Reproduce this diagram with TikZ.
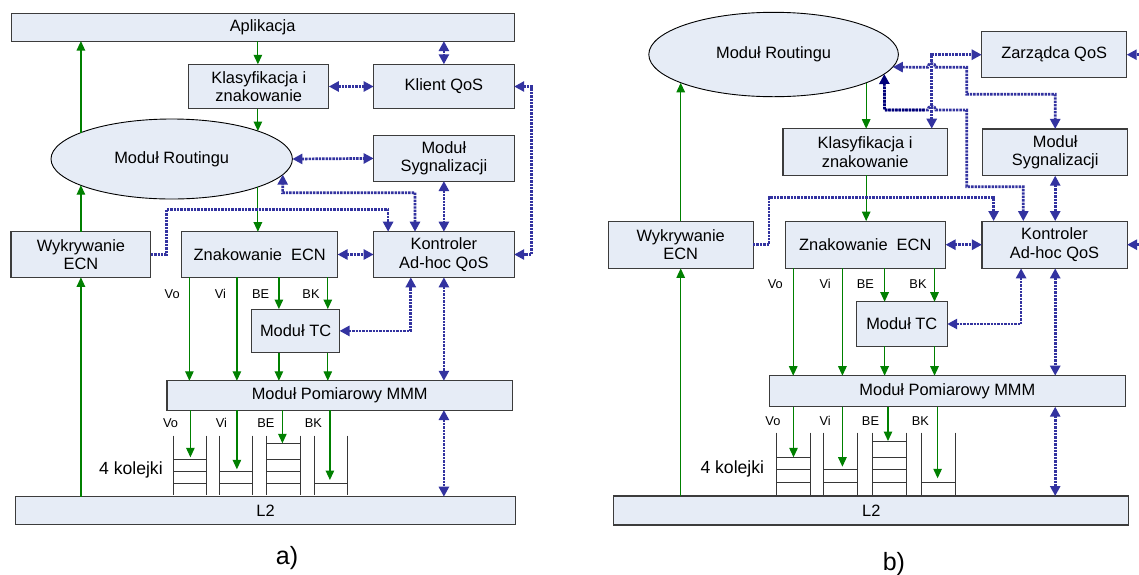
\documentclass[tikz,border=0pt]{standalone}
\usepackage{fontspec}
\setmainfont{Liberation Sans}
\usetikzlibrary{arrows.meta,shapes.geometric}

\definecolor{boxfill}{RGB}{230,236,246}
\definecolor{boxline}{RGB}{60,60,60}
\definecolor{flow}{RGB}{0,128,0}
\definecolor{ctrl}{RGB}{51,51,160}
\definecolor{ctrldark}{RGB}{0,0,120}
\definecolor{queue}{RGB}{55,55,55}

\tikzset{
  every node/.style={font=\fontsize{16.4}{18.6}\selectfont, align=center, inner sep=0pt, outer sep=0pt},
  blk/.style={draw=boxline, line width=1.1pt, fill=boxfill},
  oval/.style={ellipse, draw=black, line width=0.9pt, fill=boxfill},
  data/.style={draw=flow, line width=1.2pt, -{Triangle[length=9.5pt,width=8.5pt]}},
  ctl/.style={draw=ctrl, line width=2.7pt, dash pattern=on 2.4pt off 1pt,
    {Triangle[length=10pt,width=10pt]}-{Triangle[length=10pt,width=10pt]}},
  ctlone/.style={draw=ctrl, line width=2.7pt, dash pattern=on 2.4pt off 1pt,
    -{Triangle[length=10pt,width=10pt]}},
  qline/.style={draw=queue, line width=1pt},
  lbl/.style={font=\fontsize{12.8}{14}\selectfont},
  qlbl/.style={font=\fontsize{17.6}{20}\selectfont},
  capt/.style={font=\fontsize{25}{28}\selectfont}
}

\begin{document}
\begin{tikzpicture}[x=1pt,y=-1pt]
\useasboundingbox (0,0) rectangle (1139,574);
\fill[white] (0,0) rectangle (1139,574);

% ---------------- a) ----------------
\node[blk, minimum width=503pt, minimum height=27.7pt] (apl) at (262.6,27.2) {Aplikacja};
\node[blk, minimum width=140pt, minimum height=44.4pt] (klas) at (258.8,86.5) {Klasyfikacja i\\znakowanie};
\node[blk, minimum width=140.5pt, minimum height=44.4pt] (klient) at (443.9,86.5) {Klient QoS};
\node[oval, minimum width=241.4pt, minimum height=80pt] (rout) at (171.7,159) {Moduł Routingu};
\node[blk, minimum width=140.5pt, minimum height=45.3pt] (syg) at (443.9,158.4) {Moduł\\Sygnalizacji};
\node[blk, minimum width=139.8pt, minimum height=45.6pt] (wyk) at (80.9,254.5) {Wykrywanie\\ECN};
\node[blk, minimum width=155.7pt, minimum height=45.6pt] (znak) at (259.7,254.5) {Znakowanie\ \ ECN};
\node[blk, minimum width=140.5pt, minimum height=45.6pt] (kont) at (443.9,254.5) {Kontroler\\Ad-hoc QoS};
\node[blk, minimum width=87.8pt, minimum height=43.7pt] (tc) at (295.6,330.9) {Moduł TC};
\node[blk, minimum width=345.4pt, minimum height=29.3pt] (pom) at (339.7,395.4) {Moduł Pomiarowy MMM};
\node[blk, minimum width=500.5pt, minimum height=27.6pt] (l2) at (265.6,510.5) {L2};

% data path
\draw[data] (rout.18 |- apl.south) -- (rout.18 |- klas.north);
\draw[data] (rout.18 |- klas.south) -- (rout.18);
\draw[data] (rout.-18) -- (rout.-18 |- znak.north);
\draw[data] (wyk.north |- rout.164) -- (wyk.north |- apl.south);
\draw[data] (wyk.north) -- (wyk.north |- rout.196);
\draw[data] (l2.north -| wyk.south) -- (wyk.south);
\draw[data] (znak.south -| 189.4,0) -- (pom.north -| 189.4,0);
\draw[data] (znak.south -| 236.9,0) -- (pom.north -| 236.9,0);
\draw[data] (znak.south -| 278.9,0) -- (tc.north -| 278.9,0);
\draw[data] (znak.south -| 327.8,0) -- (tc.north -| 327.8,0);
\draw[data] (tc.south -| 278.9,0) -- (pom.north -| 278.9,0);
\draw[data] (tc.south -| 327.8,0) -- (pom.north -| 327.8,0);

% control path
\draw[ctl] (klas.east) -- (klient.west);
\draw[ctl] (klient.north |- apl.south) -- (klient.north);
\draw[ctl] (rout.east) -- (syg.west);
\draw[ctl] (syg.south) -- (kont.north);
\draw[ctl] (znak.east) -- (kont.west);
\draw[ctl] (kont.south) -- (pom.north -| kont.south);
\draw[ctl] (pom.south -| kont.south) -- (l2.north -| kont.south);
\draw[ctl] (klient.east) -- ++(17.6,0) |- (kont.east);
\draw[ctl] (kont.north -| 415,0) |- (282.6,192.7) -- (rout.-8);
\draw[ctlone] (wyk.east) -| (166.3,209.3) -| (kont.north -| 388.1,0);
\draw[ctl] (tc.east) -| (kont.south -| 410.8,0);

% queues
\foreach \a/\b in {173.2/206.6, 219.4/252.4, 266.9/300.3, 314.4/347.8}
  \draw[qline] (\a,435.7) -- (\a,495) (\b,435.7) -- (\b,495);
\foreach \y in {459,471,483.3} \draw[qline] (173.2,\y) -- (206.6,\y);
\foreach \y in {471,483.3} \draw[qline] (219.4,\y) -- (252.4,\y);
\foreach \y in {443.3,459,471,483.3} \draw[qline] (266.9,\y) -- (300.3,\y);
\draw[qline] (314.4,483.3) -- (347.8,483.3);

\coordinate (qa1) at (190.4,457.3);
\coordinate (qa2) at (236.9,469.3);
\coordinate (qa3) at (282.4,443.3);
\coordinate (qa4) at (329.9,480);
\foreach \q in {qa1,qa2,qa3,qa4} \draw[data] (pom.south -| \q) -- (\q);

\node[lbl] (av1) at (172.2,294) {Vo};
\node[lbl] (av2) at (220.4,294) {Vi};
\node[lbl] (av3) at (260.7,294) {BE};
\node[lbl] (av4) at (311,294) {BK};
\node[lbl] (aw1) at (170.5,423.3) {Vo};
\node[lbl] (aw2) at (221.4,423.3) {Vi};
\node[lbl] (aw3) at (265.8,423.3) {BE};
\node[lbl] (aw4) at (313.4,423.3) {BK};
\node[qlbl] (akol) at (130.9,470) {4 kolejki};
\node[capt] (acap) at (287,558) {a)};

% ---------------- b) ----------------
\node[oval, minimum width=249.6pt, minimum height=84.4pt] (rout2) at (773.6,54.5) {Moduł Routingu};
\node[blk, minimum width=145pt, minimum height=46pt] (zarz) at (1054.2,54.7) {Zarządca QoS};
\node[blk, minimum width=164.3pt, minimum height=46.6pt] (klas2) at (865.1,152) {Klasyfikacja i\\znakowanie};
\node[blk, minimum width=145pt, minimum height=46.7pt] (syg2) at (1055.2,152.3) {Moduł\\Sygnalizacji};
\node[blk, minimum width=144.7pt, minimum height=47.3pt] (wyk2) at (680.7,244.7) {Wykrywanie\\ECN};
\node[blk, minimum width=160.5pt, minimum height=47.3pt] (znak2) at (865.3,244.7) {Znakowanie\ \ ECN};
\node[blk, minimum width=145.1pt, minimum height=47.3pt] (kont2) at (1054.5,244.7) {Kontroler\\Ad-hoc QoS};
\node[blk, minimum width=90.8pt, minimum height=44.6pt] (tc2) at (901.8,324) {Moduł TC};
\node[blk, minimum width=355.8pt, minimum height=31pt] (pom2) at (947.4,391.2) {Moduł Pomiarowy MMM};
\node[blk, minimum width=514.9pt, minimum height=29pt] (l22) at (871.3,510.5) {L2};

% data path
\draw[data] (rout2.-17) -- (rout2.-17 |- klas2.north);
\draw[data] (klas2.south -| rout2.-17) -- (znak2.north -| rout2.-17);
\draw[data] (wyk2.north) -- (wyk2.north |- rout2.197);
\draw[data] (l22.north -| wyk2.south) -- (wyk2.south);
\draw[data] (znak2.south -| 793.2,0) -- (pom2.north -| 793.2,0);
\draw[data] (znak2.south -| 842.4,0) -- (pom2.north -| 842.4,0);
\draw[data] (znak2.south -| 884.6,0) -- (tc2.north -| 884.6,0);
\draw[data] (znak2.south -| 934.5,0) -- (tc2.north -| 934.5,0);
\draw[data] (tc2.south -| 884.6,0) -- (pom2.north -| 884.6,0);
\draw[data] (tc2.south -| 934.5,0) -- (pom2.north -| 934.5,0);

% control path
\coordinate (edgeZ) at (1139,54.7);
\coordinate (edgeK) at (1139,244.7);
\draw[ctlone] (edgeZ) -- (zarz.east);
\draw[ctlone] (edgeK) -- (kont2.east);
\draw[ctl] (znak2.east) -- (kont2.west);
\draw[ctl] (syg2.south) -- (syg2.south |- kont2.north);
\draw[ctl] (kont2.south -| syg2.south) -- (pom2.north -| syg2.south);
\draw[ctl] (pom2.south -| syg2.south) -- (l22.north -| syg2.south);
\draw[ctl] (tc2.east) -| (kont2.south -| 1021.1,0);
\draw[ctlone] (wyk2.east) -| (769.1,197.3) -| (kont2.north -| 993.6,0);
\draw[ctl] (klas2.north -| 931.7,0) |- (zarz.west);
\draw[ctl] (rout2.-6) -- (927.7,67.3) .. controls (927.7,62.3) and (935.7,62.3) .. (935.7,67.3)
  -- (966.7,67.3) -- (966.7,94.3) -- (syg2.north |- 0,94.3) -- (syg2.north);
\draw[ctl, {Triangle[length=10pt,width=10pt,color=ctrldark]}-{Triangle[length=10pt,width=10pt]}]
  (rout2.-10) -- (884.6,110) -- (927.7,110) .. controls (927.7,105) and (935.7,105) .. (935.7,110)
  -- (966.7,110) -- (966.7,186.7) -- (1023.3,186.7) -- (kont2.north -| 1023.3,0);
\draw[draw=ctrldark, line width=2.7pt, dash pattern=on 2.4pt off 1pt, shorten <=9pt]
  (rout2.-10) -- (884.6,110) -- (925,110);

% queues
\foreach \a/\b in {776.4/810, 823.4/857.1, 872.3/906.6, 921.8/955.8}
  \draw[qline] (\a,432.7) -- (\a,495) (\b,432.7) -- (\b,495);
\foreach \y in {457.3,469.7,482.3} \draw[qline] (776.4,\y) -- (810,\y);
\foreach \y in {469.7,482.3} \draw[qline] (823.4,\y) -- (857.1,\y);
\foreach \y in {441,457.3,469.7,482.3} \draw[qline] (872.3,\y) -- (906.6,\y);
\draw[qline] (921.8,482.3) -- (955.8,482.3);

\coordinate (qb1) at (793.5,457.3);
\coordinate (qb2) at (842.4,466.7);
\coordinate (qb3) at (888,441);
\coordinate (qb4) at (937.6,478.3);
\foreach \q in {qb1,qb2,qb3,qb4} \draw[data] (pom2.south -| \q) -- (\q);

\node[lbl] (bv1) at (775.3,284.3) {Vo};
\node[lbl] (bv2) at (825.2,284.3) {Vi};
\node[lbl] (bv3) at (865.4,284.3) {BE};
\node[lbl] (bv4) at (918,284.3) {BK};
\node[lbl] (bw1) at (772.9,420.7) {Vo};
\node[lbl] (bw2) at (825.2,420.7) {Vi};
\node[lbl] (bw3) at (870.5,420.7) {BE};
\node[lbl] (bw4) at (920.4,420.7) {BK};
\node[qlbl] (bkol) at (732.3,469) {4 kolejki};
\node[capt] (bcap) at (893.9,564) {b)};
\end{tikzpicture}
\end{document}
